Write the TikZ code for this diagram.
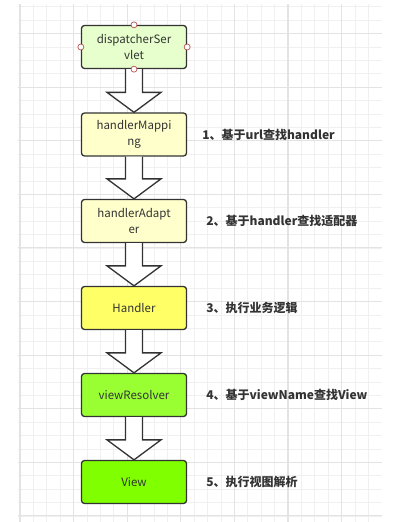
\documentclass[tikz,border=0pt]{standalone}
\usepackage{fontspec}
\newfontfamily\cjk{Noto Sans CJK SC}
\usetikzlibrary{positioning,calc}

\definecolor{boxline}{HTML}{333333}
\definecolor{txt}{HTML}{333333}
\definecolor{dsfill}{HTML}{E6FFCC}
\definecolor{paleyellow}{HTML}{FFFFCC}
\definecolor{yellowfill}{HTML}{FFFF66}
\definecolor{limefill}{HTML}{99FF33}
\definecolor{greenfill}{HTML}{80FF00}
\definecolor{portred}{HTML}{B85450}
\definecolor{gridminor}{HTML}{F0F0F0}
\definecolor{gridmajor}{HTML}{E3E3E3}

\tikzset{
  stage/.style={draw=boxline, line width=1.3pt, rounded corners=3pt,
    minimum width=105pt, minimum height=43pt, inner sep=0pt, align=center,
    text=txt, font=\cjk\fontsize{11.5}{16}\selectfont},
  bigarrow/.style={draw=boxline, line width=1.3pt, fill=white, line join=miter},
  port/.style={draw=portred, fill=white, line width=0.7pt},
  note/.style={font=\cjk\bfseries\fontsize{12}{14}\selectfont, text=txt, inner sep=0pt},
}

\begin{document}
\begin{tikzpicture}[x=1pt,y=-1pt]
                \useasboundingbox (0,0) rectangle (413,522);
                \fill[white] (0,0) rectangle (413,522);

                % Background grid
                \foreach \i in {0,...,26} {
                    \draw[gridminor, line width=0.8pt] ({20+13.4*\i},4) -- ({20+13.4*\i},522);
                }
                \foreach \j in {0,...,38} {
                    \draw[gridminor, line width=0.8pt] (18,{6.7+13.4*\j}) -- (382,{6.7+13.4*\j});
                }
                \foreach \i in {0,4,...,24} {
                    \draw[gridmajor, line width=1.1pt] ({20+13.4*\i},4) -- ({20+13.4*\i},522);
                }
                \foreach \j in {2,6,...,38} {
                    \draw[gridmajor, line width=1.1pt] (18,{6.7+13.4*\j}) -- (382,{6.7+13.4*\j});
                }

                % Processing stages
                \node[stage, fill=dsfill] (ds) at (134,47) {dispatcherSer\\vlet};
                \node[stage, fill=paleyellow] (hm) at (134,134.5) {handlerMappi\\ng};
                \node[stage, fill=paleyellow] (ha) at (134,221) {handlerAdapt\\er};
                \node[stage, fill=yellowfill] (hd) at (134,308) {Handler};
                \node[stage, fill=limefill] (vr) at (134,395) {viewResolver};
                \node[stage, fill=greenfill] (vw) at (134,482) {View};

                % Block arrows between stages
                \foreach \a/\b in {ds/hm, hm/ha, ha/hd, hd/vr, vr/vw} {
                    \draw[bigarrow] ($(\a.south)+(-8.5,0)$) -- ($(\b.north)+(-8.5,-20)$)
                        -- ($(\b.north)+(-27,-20)$) -- (\b.north)
                        -- ($(\b.north)+(27,-20)$) -- ($(\b.north)+(8.5,-20)$)
                        -- ($(\a.south)+(8.5,0)$);
                }

                % Connection points on the servlet
                \foreach \p in {north,south,east,west} {
                    \draw[port] (ds.\p) circle (3);
                }

                % Step notes
                \node[note, right=15pt of hm] (n1) {1、基于url查找handler};
                \node[note, right=19pt of ha] (n2) {2、基于handler查找适配器};
                \node[note, right=19pt of hd] (n3) {3、执行业务逻辑};
                \node[note, right=19pt of vr] (n4) {4、基于viewName查找View};
                \node[note, right=19pt of vw] (n5) {5、执行视图解析};
\end{tikzpicture}
\end{document}
